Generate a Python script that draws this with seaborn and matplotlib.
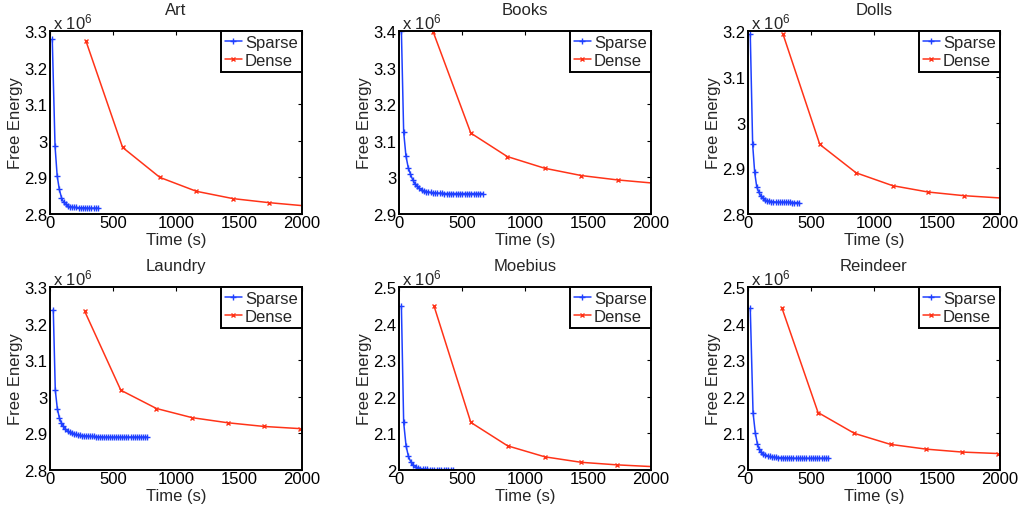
import matplotlib
matplotlib.use("Agg")
import matplotlib.pyplot as plt
import seaborn as sns
import pandas as pd
from matplotlib.ticker import FuncFormatter, MultipleLocator

# ---------------- data (Free Energy in units of 1e6) ----------------
titles = ["Art", "Books", "Dolls", "Laundry", "Moebius", "Reindeer"]

art_sparse_t = [18, 40, 57, 74, 91, 108, 125, 142, 159, 176, 193, 210, 227, 244, 261,
                278, 295, 312, 329, 346, 363, 380]
art_sparse_e = [3.277, 2.985, 2.904, 2.867, 2.845, 2.832, 2.826, 2.822, 2.820, 2.819, 2.818,
                2.818, 2.817, 2.817, 2.817, 2.817, 2.816, 2.816, 2.816, 2.816, 2.816, 2.816]
art_dense_t = [285, 576, 872, 1162, 1453, 1738, 2030]
art_dense_e = [3.273, 2.982, 2.900, 2.862, 2.842, 2.831, 2.822]

books_sparse_t = [19, 37, 55, 73, 91, 108, 126, 144, 162, 180, 198, 216, 234, 252, 270, 287,
                  305, 323, 341, 359, 377, 395, 413, 431, 449, 466, 484, 502, 520, 538, 556,
                  574, 592, 610, 628, 645, 663]
books_sparse_e = [3.400, 3.124, 3.059, 3.027, 3.009, 2.994, 2.983, 2.976, 2.970, 2.966, 2.963,
                  2.961, 2.960, 2.959, 2.958, 2.958, 2.957, 2.957, 2.957, 2.956, 2.956, 2.956,
                  2.956, 2.956, 2.956, 2.956, 2.956, 2.956, 2.956, 2.956, 2.956, 2.956, 2.956,
                  2.956, 2.956, 2.956, 2.956]
books_dense_t = [273, 570, 859, 1156, 1448, 1737, 2030]
books_dense_e = [3.396, 3.121, 3.057, 3.025, 3.005, 2.993, 2.984]

dolls_sparse_t = [18, 37, 53, 69, 85, 102, 119, 135, 152, 169, 185, 202, 219, 236, 252, 269,
                  286, 302, 319, 336, 352, 369, 386, 403]
dolls_sparse_e = [3.193, 2.952, 2.891, 2.860, 2.848, 2.839, 2.834, 2.831, 2.829, 2.828, 2.827,
                  2.827, 2.826, 2.826, 2.826, 2.826, 2.826, 2.826, 2.826, 2.826, 2.825, 2.825,
                  2.825, 2.825]
dolls_dense_t = [278, 570, 858, 1147, 1430, 1716, 2004]
dolls_dense_e = [3.193, 2.952, 2.890, 2.862, 2.848, 2.840, 2.835]

laundry_sparse_t = [26, 42, 58, 74, 90, 107, 123, 139, 155, 171, 187, 203, 219, 236, 252, 268,
                    284, 300, 316, 332, 348, 365, 381, 397, 413, 429, 445, 461, 477, 494, 510,
                    526, 542, 558, 574, 590, 606, 623, 639, 655, 671, 687, 703, 719, 735, 752,
                    768]
laundry_sparse_e = [3.238, 3.018, 2.968, 2.943, 2.929, 2.919, 2.912, 2.907, 2.903, 2.900, 2.898,
                    2.897, 2.896, 2.895, 2.894, 2.894, 2.893, 2.893, 2.892, 2.892, 2.892, 2.891,
                    2.891, 2.891, 2.891, 2.890, 2.890, 2.890, 2.890, 2.890, 2.890, 2.890, 2.890,
                    2.890, 2.890, 2.890, 2.890, 2.890, 2.890, 2.890, 2.890, 2.890, 2.890, 2.890,
                    2.890, 2.890, 2.890]
laundry_dense_t = [275, 562, 845, 1128, 1412, 1698, 1987]
laundry_dense_e = [3.234, 3.018, 2.968, 2.943, 2.929, 2.919, 2.913]

moebius_sparse_t = [19, 37, 56, 75, 94, 112, 131, 150, 168, 187, 206, 224, 243, 262, 280, 299,
                    318, 336, 355, 374, 392, 411, 430]
moebius_sparse_e = [2.448, 2.130, 2.066, 2.037, 2.022, 2.014, 2.009, 2.006, 2.004, 2.003, 2.002,
                    2.002, 2.001, 2.001, 2.001, 2.001, 2.001, 2.001, 2.001, 2.001, 2.001, 2.001,
                    2.001]
moebius_dense_t = [278, 570, 862, 1157, 1446, 1732, 2025]
moebius_dense_e = [2.448, 2.130, 2.066, 2.036, 2.021, 2.014, 2.009]

reindeer_sparse_t = [18, 40, 58, 74, 87, 104, 121, 138, 155, 173, 190, 207, 224, 241, 258, 275,
                     293, 310, 327, 344, 361, 378, 395, 413, 430, 447, 464, 481, 498, 515, 533,
                     550, 567, 584, 601, 618, 636]
reindeer_sparse_e = [2.442, 2.157, 2.101, 2.072, 2.058, 2.049, 2.044, 2.041, 2.039, 2.037, 2.036,
                     2.035, 2.035, 2.034, 2.034, 2.034, 2.033, 2.033, 2.033, 2.033, 2.032, 2.032,
                     2.032, 2.032, 2.032, 2.032, 2.032, 2.032, 2.032, 2.032, 2.032, 2.032, 2.032,
                     2.032, 2.032, 2.032, 2.032]
reindeer_dense_t = [270, 556, 845, 1131, 1414, 1700, 1984]
reindeer_dense_e = [2.442, 2.157, 2.100, 2.070, 2.057, 2.049, 2.045]

y_limits = [(2.8, 3.3), (2.9, 3.4), (2.8, 3.2), (2.8, 3.3), (2.0, 2.5), (2.0, 2.5)]
x_ticks = [0, 500, 1000, 1500, 2000]

series = [
    (art_sparse_t, art_sparse_e, art_dense_t, art_dense_e),
    (books_sparse_t, books_sparse_e, books_dense_t, books_dense_e),
    (dolls_sparse_t, dolls_sparse_e, dolls_dense_t, dolls_dense_e),
    (laundry_sparse_t, laundry_sparse_e, laundry_dense_t, laundry_dense_e),
    (moebius_sparse_t, moebius_sparse_e, moebius_dense_t, moebius_dense_e),
    (reindeer_sparse_t, reindeer_sparse_e, reindeer_dense_t, reindeer_dense_e),
]

# ---------------- style ----------------
sns.set_theme(style="white")
plt.rcParams["font.family"] = ["Liberation Sans", "DejaVu Sans"]
plt.rcParams["mathtext.fontset"] = "custom"
plt.rcParams["mathtext.rm"] = "Liberation Sans"
plt.rcParams["mathtext.it"] = "Liberation Sans"
FS = 12

palette = {"Sparse": "#1f40ff", "Dense": "#ff3318"}

fig = plt.figure(figsize=(10.2, 5.1), dpi=100)

lefts = [50, 399, 748]
tops = [32, 288]
w_px, h_px = 252, 183

fmt = FuncFormatter(lambda v, p: "%g" % round(v, 3))

for i, (title, (st, se, dt, de), yl) in enumerate(zip(titles, series, y_limits)):
    r, c = divmod(i, 3)
    l = lefts[c] / 1020
    b = (510 - tops[r] - h_px) / 510
    ax = fig.add_axes([l, b, w_px / 1020, h_px / 510])

    df = pd.DataFrame({
        "Time (s)": list(st) + list(dt),
        "Free Energy": list(se) + list(de),
        "Method": ["Sparse"] * len(st) + ["Dense"] * len(dt),
    })
    for name, mk, ms in [("Sparse", "+", 5.0), ("Dense", "x", 3.3)]:
        sub = df[df["Method"] == name]
        sns.lineplot(data=sub, x="Time (s)", y="Free Energy", ax=ax, color=palette[name],
                     marker=mk, markersize=ms, markeredgewidth=1.0,
                     markeredgecolor=palette[name], markerfacecolor=palette[name],
                     linewidth=1.1, label=name, sort=False, estimator=None)

    ax.set_xlim(0, 2000)
    ax.set_ylim(*yl)
    ax.set_xticks(x_ticks)
    ax.yaxis.set_major_locator(MultipleLocator(0.1))
    ax.yaxis.set_major_formatter(fmt)
    ax.tick_params(direction="in", length=3, width=0.8, top=True, right=True,
                   labelsize=FS, pad=2, colors="black")
    ax.tick_params(axis="x", pad=1)
    for s in ax.spines.values():
        s.set_color("black")
        s.set_linewidth(1.4)
    ax.set_title(title, fontsize=FS, pad=12)
    ax.set_xlabel("Time (s)", fontsize=FS, labelpad=1)
    ax.set_ylabel("Free Energy", fontsize=FS, labelpad=1)
    ax.text(0.01, 1.0, r"x 10$^{6}$", transform=ax.transAxes, fontsize=FS,
            ha="left", va="bottom")
    leg = ax.legend(loc="upper right", borderaxespad=0.0, frameon=True, fancybox=False,
                    edgecolor="black", fontsize=FS, handlelength=1.0, handletextpad=0.2,
                    borderpad=0.25, labelspacing=0.15, framealpha=1)
    leg.get_frame().set_linewidth(1.4)

fig.savefig("out.png", dpi=100)
